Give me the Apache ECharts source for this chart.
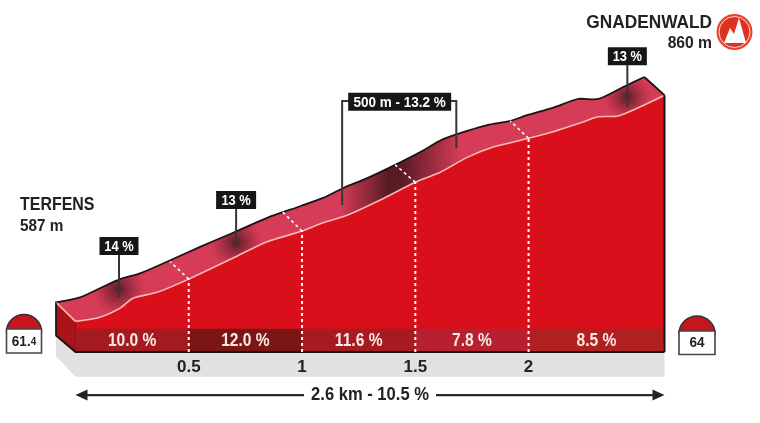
<!DOCTYPE html>
<html><head><meta charset="utf-8">
<style>html,body{margin:0;padding:0;background:#fff}#c{width:760px;height:423px}</style>
<script src="https://cdn.jsdelivr.net/npm/echarts@6/dist/echarts.min.js"></script>
</head><body><div id="c"></div>
<script>
const backProfile=[[-0.086,610],[0.02,616],[0.108,627],[0.197,638],[0.285,645],[0.404,659],[0.55,677],[0.696,694],[0.846,712],[0.992,726],[1.093,736],[1.182,748],[1.288,760],[1.411,776],[1.522,791.5],[1.623,807],[1.729,817],[1.818,824],[1.919,829],[1.994,836],[2.109,845],[2.22,855.5],[2.308,855.5],[2.418,870],[2.511,882]];
const profileEnd=[2.6,860];
const frontProfile=[[0,587],[0.108,592],[0.197,603],[0.254,615],[0.36,622],[0.5,638],[0.696,663.5],[0.846,683],[1,696],[1.093,706],[1.199,715],[1.345,733.5],[1.5,755],[1.61,767],[1.729,785],[1.844,797.5],[2,808],[2.109,816],[2.228,826.5],[2.308,834],[2.396,835],[2.493,846],[2.6,860]];
const kmTicks=[0.5,1,1.5,2];
const tickFrontElev=[638,696,755,808];
const tickBackKm=[0.418,0.915,1.411,1.919];
const tickBackElev=[659,719,776,829];
const segmentEdges=[0,0.5,1,1.5,2,2.6];
const segmentLabels=['10.0 %','12.0 %','11.6 %','7.8 %','8.5 %'];
const segmentColors=['#a31b20','#7c1614','#a61b20','#b6202f','#b02021'];
const stripTop=578, baseElev=550, totalKm=2.6;
const callouts=[{text:'14 %',km:0.192,box:678,tip:616,w:39},{text:'13 %',km:0.709,box:733.5,tip:679,w:40},{text:'13 %',km:2.436,box:907,tip:846,w:39}];
const climb={text:'500 m - 13.2 %',km:1.431,box:852,w:103,left:1.177,right:1.681,top:853,leftTip:727.5,rightTip:796};
const blobs=[[0.19,626,27],[0.709,682,27],[2.436,858,24]];
const font='"Liberation Sans",sans-serif';
const ink='#222222';
const once=(fn)=>(params,api)=>params.dataIndex?null:fn(api);
const C=(api,pts)=>pts.map(p=>api.coord(p));
function layer(name,z,fn,data){return {type:'custom',name,z,silent:true,clip:false,coordinateSystem:'cartesian2d',data:data||[[0,baseElev]],encode:{x:0,y:1},renderItem:fn};}
const surface=backProfile.concat([profileEnd]).concat(frontProfile.slice().reverse());
const faceShape=frontProfile.concat([[totalKm,baseElev],[0,baseElev]]);
const series=[
 layer('ground',1,once(api=>({type:'polygon',shape:{points:C(api,[[-0.086,567],[0,baseElev],[totalKm,baseElev],[totalKm,520],[0,520],[-0.086,545]])},style:{fill:'#e0e1e3'}}))),
 layer('wall',2,once(api=>({type:'polygon',shape:{points:C(api,[[-0.086,610],[0,587],[0,baseElev],[-0.086,570]])},style:{fill:'#a81418',stroke:'#2a1414',lineWidth:1.2}}))),
 layer('face',2,once(api=>({type:'polygon',shape:{points:C(api,faceShape)},style:{fill:'#d9101b'}}))),
 layer('strips',2,(params,api)=>{const i=params.dataIndex;return {type:'group',children:[
   {type:'polygon',shape:{points:C(api,[[segmentEdges[i],stripTop],[segmentEdges[i+1],stripTop],[segmentEdges[i+1],baseElev],[segmentEdges[i],baseElev]])},style:{fill:segmentColors[i]}},
   {type:'text',x:api.coord([(segmentEdges[i]+segmentEdges[i+1])/2,0])[0],y:api.coord([0,(stripTop+baseElev)/2])[1],scaleX:0.82,style:{text:segmentLabels[i],fill:'#fbe9e6',font:'bold 19px '+font,textAlign:'center',textVerticalAlign:'middle'}}]};},segmentLabels.map((s,i)=>[segmentEdges[i],baseElev])),
 layer('surface',3,once(api=>({type:'polygon',shape:{points:C(api,surface)},style:{fill:'#d63c57'}}))),
 layer('shade',3,(params,api)=>{const b=blobs[params.dataIndex],p=api.coord([b[0],b[1]]);return {type:'polygon',shape:{points:C(api,surface)},style:{fill:new echarts.graphic.RadialGradient(p[0],p[1],b[2],[{offset:0,color:'rgba(62,22,28,0.82)'},{offset:0.4,color:'rgba(90,28,38,0.5)'},{offset:1,color:'rgba(140,30,50,0)'}],true)}};},blobs.map(b=>[b[0],b[1]])),
 layer('climbShade',3,once(api=>{const a=api.coord([1.17,700]),b=api.coord([1.7,800]);return {type:'polygon',shape:{points:C(api,surface)},style:{fill:new echarts.graphic.LinearGradient(a[0],0,b[0],0,[{offset:0,color:'rgba(70,22,28,0)'},{offset:0.4,color:'rgba(70,22,28,0.88)'},{offset:0.52,color:'rgba(70,22,28,0.85)'},{offset:1,color:'rgba(70,22,28,0)'}],true)}};})),
 layer('frontLine',4,once(api=>({type:'polyline',shape:{points:C(api,frontProfile),smooth:0.25},style:{fill:null,stroke:'#f7b9b4',lineWidth:1.6}}))),
 layer('ridge',4,once(api=>({type:'group',children:[
   {type:'polyline',shape:{points:C(api,backProfile),smooth:0.25},style:{fill:null,stroke:'#1c1414',lineWidth:1.8}},
   {type:'polyline',shape:{points:C(api,[backProfile[backProfile.length-1],profileEnd])},style:{fill:null,stroke:'#1c1414',lineWidth:1.8}}]}))),
 layer('edges',4,once(api=>({type:'group',children:[
   {type:'polyline',shape:{points:C(api,[[-0.086,610],[0,587]])},style:{fill:null,stroke:'#f7b9b4',lineWidth:1.6}},
   {type:'polyline',shape:{points:C(api,[profileEnd,[totalKm,baseElev]])},style:{fill:null,stroke:'#1c1414',lineWidth:2}},
   {type:'polyline',shape:{points:C(api,[[-0.086,570],[0,baseElev],[totalKm,baseElev]])},style:{fill:null,stroke:'#1c1414',lineWidth:2}},
   {type:'polyline',shape:{points:C(api,[[-0.086,610],[-0.086,570]])},style:{fill:null,stroke:'#1c1414',lineWidth:1.5}}]}))),
 layer('kmDashes',5,(params,api)=>{const i=params.dataIndex,d=[3,3];return {type:'group',children:[
   {type:'polyline',shape:{points:C(api,[[kmTicks[i],baseElev],[kmTicks[i],tickFrontElev[i]]])},style:{fill:null,stroke:'#fff',lineWidth:2,lineDash:d}},
   {type:'polyline',shape:{points:C(api,[[kmTicks[i],tickFrontElev[i]],[tickBackKm[i],tickBackElev[i]]])},style:{fill:null,stroke:'#fff',lineWidth:1.6,lineDash:d}}]};},kmTicks.map((k,i)=>[k,tickFrontElev[i]])),
 layer('callouts',6,(params,api)=>{const c=callouts[params.dataIndex],t=api.coord([c.km,c.tip]),b=api.coord([c.km,c.box]);return {type:'group',children:[
   {type:'line',shape:{x1:t[0],y1:t[1],x2:b[0],y2:b[1]},style:{stroke:'#3a3436',lineWidth:2}},
   {type:'rect',shape:{x:b[0]-c.w/2,y:b[1]-9,width:c.w,height:18},style:{fill:'#161616'}},
   {type:'text',x:b[0],y:b[1]+0.5,scaleX:0.86,style:{text:c.text,fill:'#fff',font:'bold 15px '+font,textAlign:'center',textVerticalAlign:'middle'}}]};},callouts.map(c=>[c.km,c.box])),
 layer('climb',6,once(api=>{const b=api.coord([climb.km,climb.box]);return {type:'group',children:[
   {type:'polyline',shape:{points:C(api,[[climb.km,climb.top],[climb.left,climb.top],[climb.left,climb.leftTip]])},style:{fill:null,stroke:'#3a3436',lineWidth:2}},
   {type:'polyline',shape:{points:C(api,[[climb.km,climb.top],[climb.right,climb.top],[climb.right,climb.rightTip]])},style:{fill:null,stroke:'#3a3436',lineWidth:2}},
   {type:'rect',shape:{x:b[0]-climb.w/2,y:b[1]-9,width:climb.w,height:18},style:{fill:'#161616'}},
   {type:'text',x:b[0],y:b[1]+0.5,scaleX:0.9,style:{text:climb.text,fill:'#fff',font:'bold 15px '+font,textAlign:'center',textVerticalAlign:'middle'}}]};})),
 layer('distance',6,once(api=>{const a=api.coord([0,498]),b=api.coord([totalKm,498]),m=api.coord([totalKm/2,498]);const h=12,w=5.5;return {type:'group',children:[
   {type:'line',shape:{x1:a[0]+4,y1:a[1],x2:b[0]-4,y2:b[1]},style:{stroke:'#2a2a2a',lineWidth:2.2}},
   {type:'polygon',shape:{points:[[a[0],a[1]],[a[0]+h,a[1]-w],[a[0]+h,a[1]+w]]},style:{fill:'#222'}},
   {type:'polygon',shape:{points:[[b[0],b[1]],[b[0]-h,b[1]-w],[b[0]-h,b[1]+w]]},style:{fill:'#222'}},
   {type:'rect',shape:{x:m[0]-66,y:m[1]-10,width:132,height:20},style:{fill:'#fff'}},
   {type:'text',x:m[0],y:m[1],scaleX:0.92,style:{text:'2.6 km - 10.5 %',fill:ink,font:'bold 18px '+font,textAlign:'center',textVerticalAlign:'middle'}}]};}))
];
function milestone(x,w,rectTop,bottom,label){const r=w/2;return [
 {type:'sector',shape:{cx:x+r,cy:rectTop+3,r:r,startAngle:Math.PI,endAngle:2*Math.PI},style:{fill:'#c8141c',stroke:'#333',lineWidth:1.6}},
 {type:'rect',shape:{x:x,y:rectTop,width:w,height:bottom-rectTop},style:{fill:'#fff',stroke:'#444',lineWidth:1.6}},
 {type:'text',x:x+r,y:(rectTop+bottom)/2+0.5,scaleX:0.9,style:{text:label,rich:{s:{font:'bold 11px '+font,fill:ink}},fill:ink,font:'bold 15px '+font,textAlign:'center',textVerticalAlign:'middle'}}];}
const graphicEls=[
 {type:'text',x:20,y:205,scaleX:0.84,style:{text:'TERFENS',fill:ink,font:'bold 19px '+font,textVerticalAlign:'middle'}},
 {type:'text',x:20,y:226,scaleX:0.9,style:{text:'587 m',fill:ink,font:'bold 17px '+font,textVerticalAlign:'middle'}},
 {type:'text',x:712,y:23,scaleX:0.96,style:{text:'GNADENWALD',fill:ink,font:'bold 18px '+font,textAlign:'right',textVerticalAlign:'middle'}},
 {type:'text',x:712,y:43,scaleX:0.92,style:{text:'860 m',fill:ink,font:'bold 17px '+font,textAlign:'right',textVerticalAlign:'middle'}},
 {type:'circle',shape:{cx:734.5,cy:32,r:18},style:{fill:'#e8442c'}},
 {type:'circle',shape:{cx:734.5,cy:32,r:15.5},style:{fill:'#e0301f',stroke:'#fbd9d0',lineWidth:1}},
 {type:'polygon',shape:{points:[[724,43],[730,28],[734,34],[739,18],[746,43]]},style:{fill:'#fff'}}
].concat(milestone(6.5,35,329,353,'61.{s|4}'),milestone(679,36,331,354.5,'64'));
const chart=echarts.init(document.getElementById('c'),null,{renderer:'canvas'});
chart.setOption({animation:false,backgroundColor:'#fff',
 grid:{left:75.5,right:95.5,top:0,bottom:71,containLabel:false},
 xAxis:{type:'value',min:0,max:totalKm,interval:0.5,z:7,splitLine:{show:false},axisTick:{show:false},axisLine:{show:false},
   axisLabel:{customValues:kmTicks,margin:7,color:ink,fontFamily:font,fontWeight:'bold',fontSize:17}},
 yAxis:{type:'value',min:baseElev,max:975,show:false,splitLine:{show:false}},
 series,graphic:{elements:graphicEls}});
</script></body></html>
